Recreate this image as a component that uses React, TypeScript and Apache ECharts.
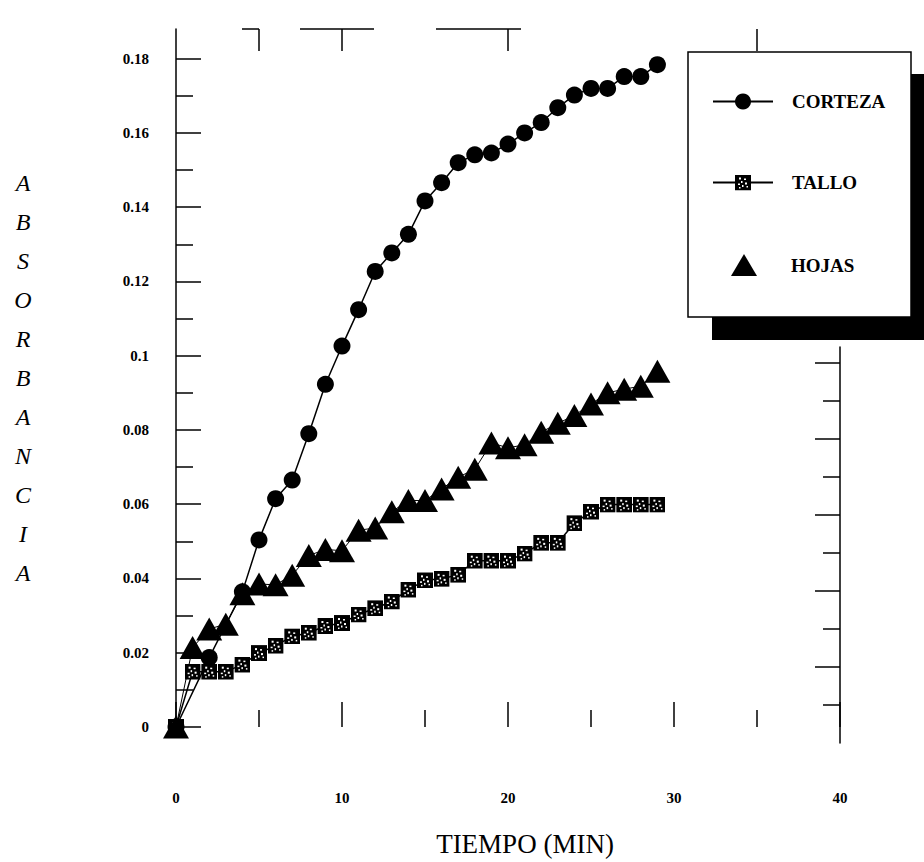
import React, { useEffect, useRef } from 'react';
import * as echarts from 'echarts';

// ---- data ----
const cortezaMinutes = [0, 2, 4, 5, 6, 7, 8, 9, 10, 11, 12, 13, 14, 15, 16, 17, 18, 19, 20, 21, 22, 23, 24, 25, 26, 27, 28, 29];
const cortezaValues = [0, 0.0187, 0.0364, 0.0504, 0.0615, 0.0665, 0.079, 0.0923, 0.1026, 0.1124, 0.1227, 0.1277, 0.1327, 0.1417, 0.1466, 0.152, 0.1541, 0.1546, 0.157, 0.16, 0.1628, 0.1668, 0.1702, 0.172, 0.172, 0.1752, 0.1752, 0.1784];

const minutes = [0, 1, 2, 3, 4, 5, 6, 7, 8, 9, 10, 11, 12, 13, 14, 15, 16, 17, 18, 19, 20, 21, 22, 23, 24, 25, 26, 27, 28, 29];
const talloValues = [0, 0.0149, 0.0149, 0.0149, 0.0168, 0.0199, 0.0219, 0.0244, 0.0254, 0.0272, 0.028, 0.0303, 0.032, 0.0338, 0.037, 0.0395, 0.0399, 0.041, 0.0448, 0.0448, 0.0448, 0.0467, 0.0496, 0.0496, 0.0549, 0.058, 0.0599, 0.0599, 0.0599, 0.0599];
const hojasValues = [0, 0.0214, 0.0264, 0.0277, 0.0359, 0.0385, 0.0383, 0.0409, 0.0462, 0.0478, 0.0475, 0.053, 0.0536, 0.058, 0.061, 0.061, 0.0641, 0.0673, 0.0694, 0.0765, 0.0752, 0.076, 0.0794, 0.0818, 0.0839, 0.087, 0.09, 0.091, 0.0918, 0.0958];

const yMajorTicks = [0, 0.02, 0.04, 0.06, 0.08, 0.1, 0.12, 0.14, 0.16, 0.18];
const yMinorTicks = [0.01, 0.03, 0.05, 0.07, 0.09, 0.11, 0.13, 0.15, 0.17];
const rightMajorTicks = [0.02, 0.04, 0.06, 0.08, 0.1];
const rightMinorTicks = [0.01, 0.03, 0.05, 0.07, 0.09];
const topTicks = [5, 10, 20, 35];

const FONT = '"Liberation Serif", "Times New Roman", serif';

const talloSvg =
  "<svg xmlns='http://www.w3.org/2000/svg' width='16' height='16' viewBox='0 0 16 16'>" +
  "<rect width='16' height='16' fill='#000'/>" +
  "<g fill='#fff'>" +
  "<rect x='4' y='3' width='2' height='2'/><rect x='9' y='4' width='2' height='1.5'/>" +
  "<rect x='6' y='6.5' width='1.5' height='2'/><rect x='10' y='8' width='2' height='2'/>" +
  "<rect x='3' y='9' width='2' height='1.5'/><rect x='7' y='10.5' width='1.5' height='2'/>" +
  "<rect x='11.5' y='11.5' width='1.5' height='1.5'/><rect x='4' y='12.5' width='1.5' height='1.5'/>" +
  "</g></svg>";
const talloSymbol = 'image://data:image/svg+xml;utf8,' + encodeURIComponent(talloSvg);

const fmtY = (v: number) => (v === 0 ? '0' : String(parseFloat(v.toFixed(2))));

export default function App() {
  const ref = useRef<HTMLDivElement>(null);
  useEffect(() => {
    document.body.style.margin = '0';
    if (!ref.current) return;
    const chart = echarts.init(ref.current, undefined, { renderer: 'svg' });
    const black = '#000';
    const tickStyle = { color: black, width: 1.5 };
    const hiddenLine = { show: false, onZero: false };
    const legendText = { color: black, fontFamily: FONT, fontWeight: 'bold', fontSize: 19 };
    chart.setOption({
      animation: false,
      backgroundColor: '#fff',
      grid: [
        { left: 176, right: 84, top: 29, bottom: 119 },
        { left: 176, right: 84, top: 347, bottom: 119 },
      ],
      xAxis: [
        {
          gridIndex: 0, type: 'value', min: 0, max: 40, interval: 10, position: 'bottom',
          axisLine: hiddenLine,
          axisTick: { show: true, inside: true, length: 25, lineStyle: tickStyle },
          minorTick: { show: true, splitNumber: 2, length: 17, lineStyle: tickStyle },
          splitLine: { show: false },
          axisLabel: { margin: 63, color: black, fontFamily: FONT, fontWeight: 'bold', fontSize: 15 },
          name: 'TIEMPO (MIN)', nameLocation: 'middle', nameGap: 103,
          nameTextStyle: { color: black, fontFamily: FONT, fontSize: 27, padding: [0, 0, 0, 34] },
        },
        {
          gridIndex: 0, type: 'value', min: 0, max: 40, position: 'top',
          axisLine: hiddenLine,
          axisTick: { show: true, inside: true, length: 22, customValues: topTicks, lineStyle: tickStyle },
          axisLabel: { show: false }, splitLine: { show: false },
        },
        { gridIndex: 1, type: 'value', min: 0, max: 40, show: false, axisLine: hiddenLine },
      ],
      yAxis: [
        {
          gridIndex: 0, type: 'value', min: 0, max: 0.188, position: 'left',
          axisLine: { show: true, onZero: false, lineStyle: tickStyle },
          axisTick: { show: true, inside: true, length: 25, customValues: yMajorTicks, lineStyle: tickStyle },
          axisLabel: { customValues: yMajorTicks, formatter: fmtY, margin: 27, color: black, fontFamily: FONT, fontWeight: 'bold', fontSize: 15 },
          splitLine: { show: false },
          name: 'A\nB\nS\nO\nR\nB\nA\nN\nC\nI\nA', nameLocation: 'middle', nameRotate: 0, nameGap: 153,
          nameTextStyle: { color: black, fontFamily: FONT, fontStyle: 'italic', fontSize: 24, lineHeight: 39, align: 'center', verticalAlign: 'middle' },
        },
        {
          gridIndex: 0, type: 'value', min: 0, max: 0.188, position: 'left',
          axisLine: hiddenLine,
          axisTick: { show: true, inside: true, length: 17, customValues: yMinorTicks, lineStyle: tickStyle },
          axisLabel: { show: false }, splitLine: { show: false },
        },
        {
          gridIndex: 1, type: 'value', min: 0, max: 0.10427, position: 'right',
          axisLine: { show: true, onZero: false, lineStyle: tickStyle },
          axisTick: { show: true, inside: true, length: 25, customValues: rightMajorTicks, lineStyle: tickStyle },
          axisLabel: { show: false }, splitLine: { show: false },
        },
        {
          gridIndex: 1, type: 'value', min: 0, max: 0.10427, position: 'right',
          axisLine: hiddenLine,
          axisTick: { show: true, inside: true, length: 17, customValues: rightMinorTicks, lineStyle: tickStyle },
          axisLabel: { show: false }, splitLine: { show: false },
        },
      ],
      legend: [
        {
          data: ['CORTEZA'], left: 712, top: 92, padding: 0, orient: 'vertical', selectedMode: false,
          itemWidth: 60, itemHeight: 20, z: 10, textStyle: { ...legendText, padding: [0, 0, 0, 14] },
        },
        {
          data: ['TALLO'], left: 712, top: 173, padding: 0, orient: 'vertical', selectedMode: false,
          itemWidth: 60, itemHeight: 20, z: 10, textStyle: { ...legendText, padding: [0, 0, 0, 14] },
        },
        {
          data: [{ name: 'HOJAS', icon: 'triangle' }], left: 731, top: 254, padding: 0, orient: 'vertical', selectedMode: false,
          itemWidth: 26, itemHeight: 22, z: 10, textStyle: { ...legendText, padding: [0, 0, 0, 29] },
        },
      ],
      graphic: [
        { type: 'rect', z: 1, shape: { x: 712, y: 74, width: 240, height: 266 }, style: { fill: black } },
        { type: 'rect', z: 2, shape: { x: 688, y: 52, width: 223, height: 265 }, style: { fill: '#fff', stroke: black, lineWidth: 1.5 } },
        { type: 'line', z: 1, shape: { x1: 242, y1: 29, x2: 259, y2: 29 }, style: { stroke: black, lineWidth: 1.5 } },
        { type: 'line', z: 1, shape: { x1: 300, y1: 29, x2: 374, y2: 29 }, style: { stroke: black, lineWidth: 1.5 } },
        { type: 'line', z: 1, shape: { x1: 436, y1: 29, x2: 521, y2: 29 }, style: { stroke: black, lineWidth: 1.5 } },
      ],
      series: [
        {
          name: 'CORTEZA', type: 'line', xAxisIndex: 0, yAxisIndex: 0,
          data: cortezaMinutes.map((m, i) => [m, cortezaValues[i]]),
          symbol: 'circle', symbolSize: 17,
          itemStyle: { color: black }, lineStyle: { color: black, width: 1.5 },
        },
        {
          name: 'TALLO', type: 'line', xAxisIndex: 0, yAxisIndex: 0,
          data: minutes.map((m, i) => [m, talloValues[i]]),
          symbol: talloSymbol, symbolSize: 16,
          itemStyle: { color: black }, lineStyle: { color: black, width: 1.5 },
        },
        {
          name: 'HOJAS', type: 'line', xAxisIndex: 0, yAxisIndex: 0,
          data: minutes.map((m, i) => [m, hojasValues[i]]),
          symbol: 'triangle', symbolSize: [26, 23],
          itemStyle: { color: black }, lineStyle: { color: black, width: 1 },
        },
      ],
    });
    return () => chart.dispose();
  }, []);
  return <div ref={ref} style={{ width: 924, height: 862 }} />;
}
